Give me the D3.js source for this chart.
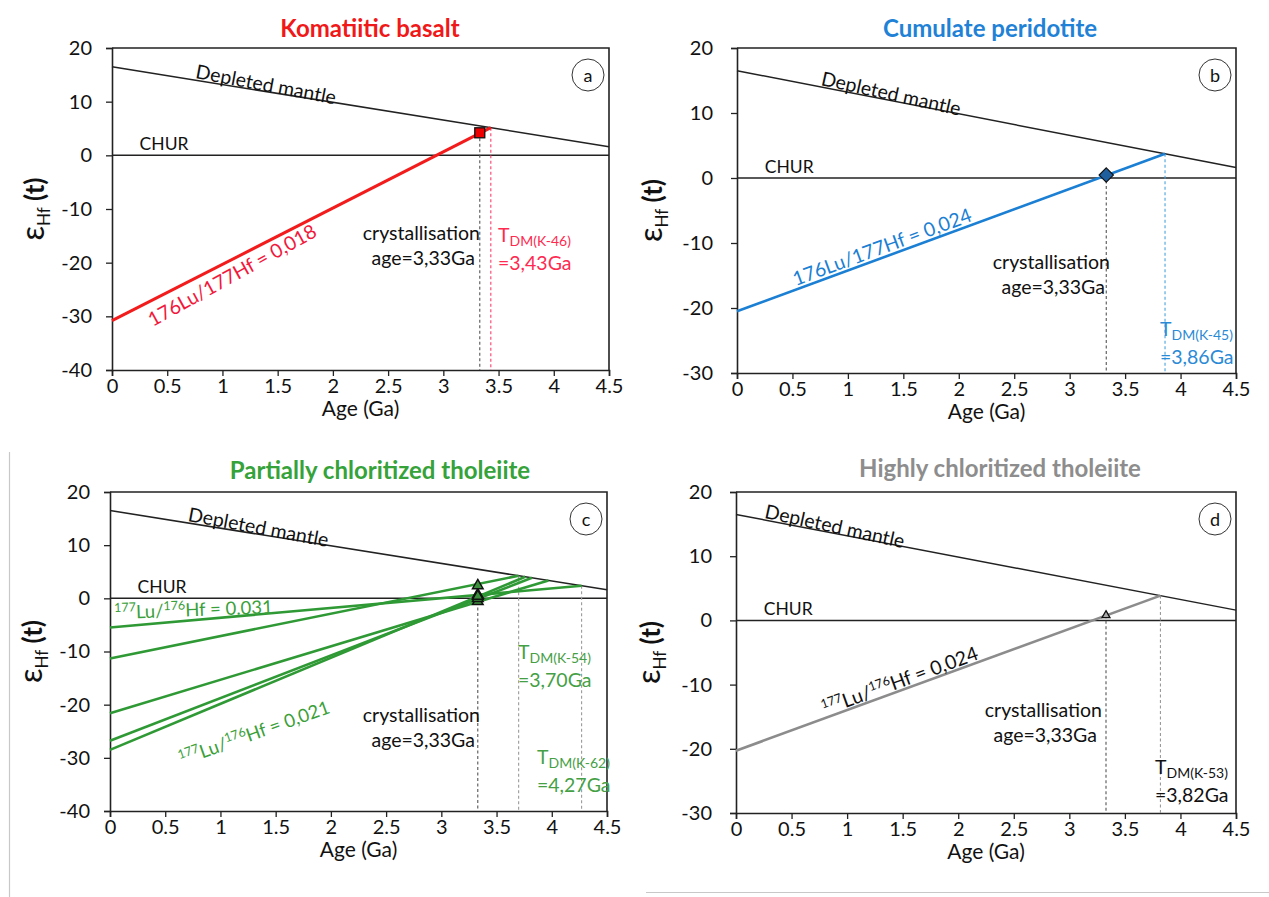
<!DOCTYPE html>
<html>
<head>
<meta charset="utf-8">
<script src="https://cdn.jsdelivr.net/npm/d3@7"></script>
<style>
  html, body { margin: 0; padding: 0; background: #fff; }
  svg { display: block; font-family: Lato, "Open Sans", sans-serif; }
</style>
</head>
<body>
<svg id="fig" width="1269" height="897"></svg>
<script>
// ---- shared axis definitions ----
const ageTicks = [0, 0.5, 1, 1.5, 2, 2.5, 3, 3.5, 4, 4.5];
const epsTicksWide = [-40, -30, -20, -10, 0, 10, 20];
const epsTicksNarrow = [-30, -20, -10, 0, 10, 20];

// Depleted mantle evolution (age Ga, εHf) and CHUR reference
const dmAges = [0, 4.5];
const dmEps = [16.5, 1.6];
const churEps = 0;

// crystallisation age shared by all samples
const crystAge = 3.33;

// (a) komatiitic basalt
const basaltAges = [0, 3.43];
const basaltEps = [-30.8, 5.15];
const basaltPoint = [3.33, 4.2];

// (b) cumulate peridotite
const peridotiteAges = [0, 3.86];
const peridotiteEps = [-20.5, 3.72];
const peridotitePoint = [3.33, 0.45];

// (c) partially chloritized tholeiite, one line per sample
const tholStartEps = [-5.5, -11.3, -21.6, -26.8, -28.5];
const tholEndAges = [4.27, 3.70, 3.97, 3.82, 3.76];
const tholEndEps = [2.37, 4.25, 3.36, 3.86, 4.05];
const tholPointEps = [0.7, 2.4, -0.6, 0.0, 0.4];

// (d) highly chloritized tholeiite
const chlorAges = [0, 3.82];
const chlorEps = [-20.3, 3.86];
const chlorPoint = [3.33, 0.8];

const FS = 19.5;        // annotation text size
const TICK_FS = 20;     // tick label size

const svg = d3.select("#fig");

// thin frame remnants around the lower half of the figure
svg.append("line").attr("x1", 9.5).attr("x2", 9.5).attr("y1", 452).attr("y2", 897)
  .attr("stroke", "#c8c8c8").attr("stroke-width", 1.2);
svg.append("line").attr("x1", 646).attr("x2", 1269).attr("y1", 892.5).attr("y2", 892.5)
  .attr("stroke", "#c8c8c8").attr("stroke-width", 1.2);

function drawPanel(cfg) {
  const x = d3.scaleLinear().domain([0, 4.5]).range([cfg.x0, cfg.x1]);
  const y = d3.scaleLinear().domain(cfg.yDomain).range([cfg.yBot, cfg.yTop]);
  const g = svg.append("g");
  const line = d3.line().x(d => x(d[0])).y(d => y(d[1]));
  const angleOf = (p, q) => Math.atan2(y(q[1]) - y(p[1]), x(q[0]) - x(p[0])) * 180 / Math.PI;

  // title
  g.append("text").attr("x", cfg.titleX).attr("y", cfg.titleY)
    .attr("text-anchor", "middle").attr("font-size", 24).attr("font-weight", "bold")
    .attr("fill", cfg.titleColor).text(cfg.title);

  // axes
  const styleAxis = s => {
    s.select(".domain").attr("stroke", "#222").attr("stroke-width", 1.6);
    s.selectAll(".tick line").attr("stroke", "#222").attr("stroke-width", 1.3);
    s.selectAll("text").attr("font-size", TICK_FS).attr("fill", "#111")
      .attr("font-family", "Lato, 'Open Sans', sans-serif");
  };
  g.append("g").attr("transform", `translate(0,${cfg.yBot})`)
    .call(d3.axisBottom(x).tickValues(ageTicks).tickSize(6).tickPadding(3).tickFormat(d => String(d)))
    .call(styleAxis);
  g.append("g").attr("transform", `translate(${cfg.x0},0)`)
    .call(d3.axisLeft(y).tickValues(cfg.yTicks).tickSize(6).tickPadding(cfg.yPad).tickFormat(d => String(d)))
    .call(styleAxis);
  // top and right frame
  g.append("path")
    .attr("d", `M${cfg.x0},${cfg.yTop}H${cfg.x1}V${cfg.yBot}`)
    .attr("fill", "none").attr("stroke", "#222").attr("stroke-width", 1.6);

  // axis titles
  g.append("text").attr("x", (cfg.x0 + cfg.x1) / 2).attr("y", cfg.yBot + 46)
    .attr("text-anchor", "middle").attr("font-size", 21).attr("fill", "#111").text("Age (Ga)");
  const yl = g.append("text")
    .attr("transform", `translate(${cfg.yLabelX},${(cfg.yTop + cfg.yBot) / 2}) rotate(-90)`)
    .attr("text-anchor", "middle").attr("fill", "#111");
  yl.append("tspan").attr("font-size", 32).text("ε");
  yl.append("tspan").attr("font-size", 17).attr("dy", 6).text("Hf");
  yl.append("tspan").attr("font-size", 26).attr("font-weight", "bold").attr("dy", -6).text(" (t)");

  // CHUR
  g.append("line").attr("x1", x(0)).attr("x2", x(4.5)).attr("y1", y(churEps)).attr("y2", y(churEps))
    .attr("stroke", "#222").attr("stroke-width", 1.5);
  g.append("text").attr("x", x(0.25)).attr("y", y(churEps) - 5)
    .attr("font-size", 17.5).attr("fill", "#111").text("CHUR");

  // depleted mantle
  const dm = dmAges.map((a, i) => [a, dmEps[i]]);
  g.append("path").attr("d", line(dm)).attr("fill", "none").attr("stroke", "#222").attr("stroke-width", 1.5);
  const dmA = angleOf(dm[0], dm[1]) + 1.5;
  const dmAt = dmEps[0] + (dmEps[1] - dmEps[0]) / 4.5 * cfg.dmLabelAge;
  g.append("text")
    .attr("transform", `translate(${x(cfg.dmLabelAge)},${y(dmAt) - 2}) rotate(${dmA})`)
    .attr("font-size", 19.5).attr("fill", "#111").text("Depleted mantle");

  // panel letter
  g.append("ellipse").attr("cx", cfg.x1 - 21).attr("cy", cfg.yTop + 27).attr("rx", 16).attr("ry", 16)
    .attr("fill", "#fff").attr("stroke", "#333").attr("stroke-width", 1);
  g.append("text").attr("x", cfg.x1 - 21).attr("y", cfg.yTop + 33.5)
    .attr("text-anchor", "middle").attr("font-size", 18).attr("fill", "#111").text(cfg.letter);

  return { g, x, y, line, angleOf };
}

function vDash(p, age, eps, color) {
  p.g.append("line").attr("x1", p.x(age)).attr("x2", p.x(age))
    .attr("y1", p.y(eps)).attr("y2", p.y.range()[0])
    .attr("stroke", color).attr("stroke-width", 1.1).attr("stroke-dasharray", "3,2.5");
}

function crystLabel(p, xr, base) {
  p.g.append("text").attr("x", xr).attr("y", base).attr("text-anchor", "end")
    .attr("font-size", FS).attr("fill", "#111").text("crystallisation");
  p.g.append("text").attr("x", xr - 5).attr("y", base + 25).attr("text-anchor", "end")
    .attr("font-size", FS).attr("fill", "#111").text("age=3,33Ga");
}

function tdmLabel(p, xl, base, sample, value, color) {
  const t = p.g.append("text").attr("x", xl).attr("y", base).attr("fill", color);
  t.append("tspan").attr("font-size", FS).text("T");
  t.append("tspan").attr("font-size", 14).attr("dy", 4).text(`DM(${sample})`);
  p.g.append("text").attr("x", xl).attr("y", base + 28).attr("fill", color)
    .attr("font-size", FS).text(value);
}

function ratioLabel(p, age, eps, angle, color, iso, size) {
  const t = p.g.append("text")
    .attr("transform", `translate(${p.x(age)},${p.y(eps)}) rotate(${angle})`)
    .attr("fill", color).attr("font-size", size || FS);
  if (iso.plain) {
    t.text(iso.plain);
  } else {
    t.append("tspan").attr("font-size", 12.5).attr("dy", -7).text("177");
    t.append("tspan").attr("dy", 7).text("Lu/");
    t.append("tspan").attr("font-size", 12.5).attr("dy", -7).text("176");
    t.append("tspan").attr("dy", 7).text("Hf = " + iso.value);
  }
}

// ---------- (a) Komatiitic basalt ----------
{
  const red = "#f21c1c";
  const p = drawPanel({ x0: 112, x1: 609, yTop: 48, yBot: 370, yDomain: [-40, 20], yTicks: epsTicksWide,
    title: "Komatiitic basalt", titleColor: "#f01818", titleX: 370, titleY: 37, yPad: 14,
    letter: "a", yLabelX: 44, dmLabelAge: 0.75 });
  vDash(p, crystAge, basaltPoint[1], "#555");
  vDash(p, basaltAges[1], basaltEps[1], "#ff3b6b");
  const pts = basaltAges.map((a, i) => [a, basaltEps[i]]);
  p.g.append("path").attr("d", p.line(pts)).attr("fill", "none").attr("stroke", red).attr("stroke-width", 3);
  p.g.append("rect").attr("x", p.x(basaltPoint[0]) - 5).attr("y", p.y(basaltPoint[1]) - 5)
    .attr("width", 10).attr("height", 10).attr("fill", "#e00").attr("stroke", "#111").attr("stroke-width", 1.3);
  ratioLabel(p, 0.37, -32.0, p.angleOf(pts[0], pts[1]) - 2, "#f2183c", { plain: "176Lu/177Hf = 0,018" });
  crystLabel(p, 480, 240);
  tdmLabel(p, 498, 242, "K-46", "=3,43Ga", "#ff2a50");
}

// ---------- (b) Cumulate peridotite ----------
{
  const blue = "#1b7fd3";
  const p = drawPanel({ x0: 737, x1: 1236, yTop: 48, yBot: 373, yDomain: [-30, 20], yTicks: epsTicksNarrow,
    title: "Cumulate peridotite", titleColor: "#1f82d6", titleX: 990, titleY: 37, yPad: 18,
    letter: "b", yLabelX: 662, dmLabelAge: 0.75 });
  vDash(p, crystAge, peridotitePoint[1], "#555");
  vDash(p, peridotiteAges[1], peridotiteEps[1], "#4aa3dd");
  const pts = peridotiteAges.map((a, i) => [a, peridotiteEps[i]]);
  p.g.append("path").attr("d", p.line(pts)).attr("fill", "none").attr("stroke", blue).attr("stroke-width", 2.6);
  p.g.append("path").attr("d", d3.symbol(d3.symbolDiamond2, 130)())
    .attr("transform", `translate(${p.x(peridotitePoint[0])},${p.y(peridotitePoint[1])})`)
    .attr("fill", "#1f5f9e").attr("stroke", "#111").attr("stroke-width", 1.2);
  ratioLabel(p, 0.53, -16.6, p.angleOf(pts[0], pts[1]), blue, { plain: "176Lu/177Hf = 0,024" });
  crystLabel(p, 1110, 269);
  tdmLabel(p, 1160, 336, "K-45", "=3,86Ga", "#2a8ad6");
}

// ---------- (c) Partially chloritized tholeiite ----------
{
  const green = "#2f9a35";
  const p = drawPanel({ x0: 110, x1: 607, yTop: 492, yBot: 811, yDomain: [-40, 20], yTicks: epsTicksWide,
    title: "Partially chloritized tholeiite", titleColor: "#35a23a", titleX: 380, titleY: 479, yPad: 14,
    letter: "c", yLabelX: 42, dmLabelAge: 0.7 });
  vDash(p, crystAge, d3.max(tholPointEps), "#555");
  vDash(p, tholEndAges[1], tholEndEps[1], "#9a9a9a");
  vDash(p, tholEndAges[0], tholEndEps[0], "#9a9a9a");
  const sets = tholStartEps.map((s, i) => [[0, s], [tholEndAges[i], tholEndEps[i]]]);
  p.g.selectAll(".thol").data(sets).join("path")
    .attr("d", p.line).attr("fill", "none").attr("stroke", green).attr("stroke-width", 2.6);
  const tri = d3.symbol(d3.symbolTriangle2, 80)();
  p.g.selectAll(".tri").data(tholPointEps).join("path")
    .attr("d", tri)
    .attr("transform", d => `translate(${p.x(crystAge)},${p.y(d)})`)
    .attr("fill", "#3c8f3c").attr("stroke", "#111").attr("stroke-width", 1.5);
  ratioLabel(p, 0.04, -3.9, p.angleOf(sets[0][0], sets[0][1]) + 3, "#3aa03a", { value: "0.031" }, 18.5);
  ratioLabel(p, 0.65, -31.5, p.angleOf(sets[4][0], sets[4][1]) + 3, "#3aa03a", { value: "0,021" }, 18.5);
  crystLabel(p, 480, 722);
  tdmLabel(p, 518, 659, "K-54", "=3,70Ga", "#45a045");
  tdmLabel(p, 537, 764, "K-62", "=4,27Ga", "#45a045");
}

// ---------- (d) Highly chloritized tholeiite ----------
{
  const gray = "#8c8c8c";
  const p = drawPanel({ x0: 736, x1: 1236, yTop: 492, yBot: 813, yDomain: [-30, 20], yTicks: epsTicksNarrow,
    title: "Highly chloritized tholeiite", titleColor: "#8d8d8d", titleX: 1000, titleY: 477, yPad: 18,
    letter: "d", yLabelX: 660, dmLabelAge: 0.25 });
  vDash(p, crystAge, chlorPoint[1], "#555");
  vDash(p, chlorAges[1], chlorEps[1], "#9a9a9a");
  const pts = chlorAges.map((a, i) => [a, chlorEps[i]]);
  p.g.append("path").attr("d", p.line(pts)).attr("fill", "none").attr("stroke", gray).attr("stroke-width", 2.6);
  p.g.append("path").attr("d", d3.symbol(d3.symbolTriangle2, 45)())
    .attr("transform", `translate(${p.x(chlorPoint[0])},${p.y(chlorPoint[1])})`)
    .attr("fill", "#aaa").attr("stroke", "#111").attr("stroke-width", 1.3);
  ratioLabel(p, 0.8, -14.8, p.angleOf(pts[0], pts[1]), "#111", { value: "0,024" });
  crystLabel(p, 1102, 717);
  tdmLabel(p, 1155, 774, "K-53", "=3,82Ga", "#111");
}
</script>
</body>
</html>
